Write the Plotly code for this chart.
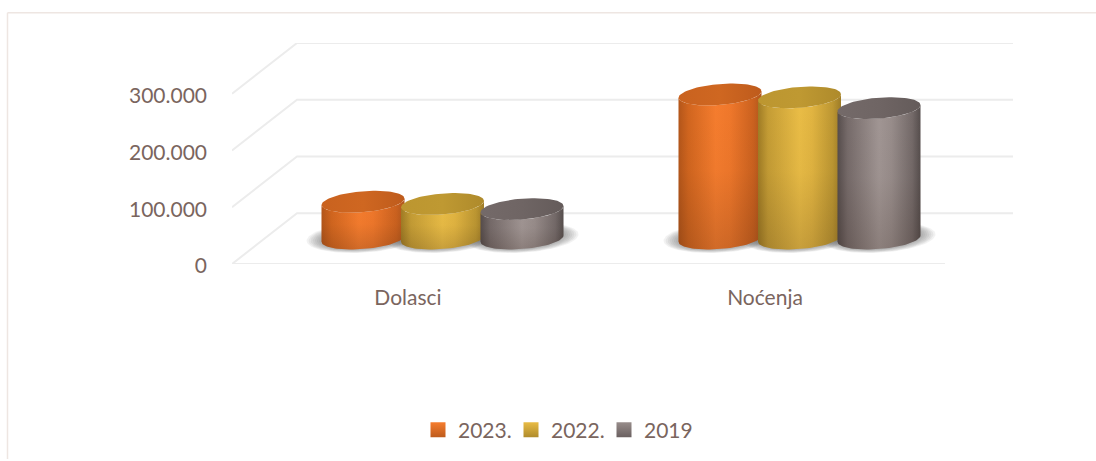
import numpy as np
import plotly.graph_objects as go

categories = ["Dolasci", "Noćenja"]
series_names = ["2023.", "2022.", "2019"]
values_2023 = [65000, 254000]
values_2022 = [61000, 249000]
values_2019 = [52000, 230000]
tick_vals = [0, 100000, 200000, 300000]
tick_text = ["0", "100.000", "200.000", "300.000"]

all_values = [values_2023, values_2022, values_2019]
side_colors = [
    [[0, "#B4561A"], [0.12, "#D2661F"], [0.45, "#F67D2E"], [0.62, "#F0782B"], [0.9, "#CC621F"], [1, "#B0561C"]],
    [[0, "#A07C25"], [0.12, "#C59D35"], [0.5, "#EABD46"], [0.65, "#E2B541"], [0.9, "#BD9732"], [1, "#9E7C27"]],
    [[0, "#564D4C"], [0.12, "#766B6A"], [0.5, "#A19694"], [0.65, "#988D8B"], [0.9, "#746A69"], [1, "#564E4D"]],
]
top_colors = [
    [[0, "#C9621F"], [0.5, "#CF6721"], [1, "#BE5B1C"]],
    [[0, "#BC9630"], [0.5, "#BF9932"], [1, "#AE8A2B"]],
    [[0, "#746A69"], [0.5, "#6F6564"], [1, "#645B5A"]],
]
legend_colors = [("#F67D2E", "#BE5B1C"), ("#E9BC45", "#B08C2C"), ("#988D8B", "#6A6060")]
text_color = "#7A655E"
grid_color = "#ECECEC"

# pixel geometry of the oblique projection
W, H = 1096, 461
PX_L, PX_R, PX_T, PX_B = 232, 1013, 43, 265
PX_PER_CAT = 357.0      # one category along the front edge
PX_PER_100K = 57.0
DEPTH_X, DEPTH_Y = 65.0, 51.0
FRONT_X0 = 410.0        # pixel x of first category on the front floor edge

ux = lambda px: px / PX_PER_CAT
uy = lambda px: px / PX_PER_100K * 100000

xmin = -(FRONT_X0 - PX_L) / PX_PER_CAT
xmax = (PX_R - FRONT_X0) / PX_PER_CAT
ymax = tick_vals[-1] + uy(DEPTH_Y)
dx, dy = ux(DEPTH_X), uy(DEPTH_Y)
front_right = (945 - FRONT_X0) / PX_PER_CAT

fig = go.Figure()

# walls and floor
gx, gy = [], []
for v in tick_vals:
    gx += [xmin, xmin + dx, xmax, None]
    gy += [v, v + dy, v + dy, None]
gx += [xmin, front_right, None]
gy += [0, 0, None]
fig.add_trace(go.Scatter(x=gx, y=gy, mode="lines", line=dict(color=grid_color, width=2),
                         showlegend=False, hoverinfo="skip", cliponaxis=False))

BAR_STEP = ux(79.5)
A = ux(41.5)
B = uy(10.5)
K = uy(3.2)
t = np.linspace(0, 2 * np.pi, 91)


def ellipse(cx, cy, ts=t, sa=1.0, sb=1.0):
    return cx + A * sa * np.cos(ts), cy + B * sb * np.sin(ts) + K * np.cos(ts)


# soft shadows under each group
for c in range(len(categories)):
    for s in range(len(series_names)):
        cx = c + dx / 2 + (s - 1) * BAR_STEP
        cy = dy / 2
        for sc in [1.36, 1.31, 1.26, 1.21, 1.16, 1.11, 1.06, 1.0]:
            ex, ey = ellipse(cx, cy + uy(1.0), sa=sc, sb=sc + 0.08)
            fig.add_trace(go.Scatter(x=ex, y=ey, mode="lines", fill="toself", line=dict(width=0),
                                     fillcolor="rgba(70,70,70,0.07)", showlegend=False, hoverinfo="skip"))

# cylinders
low = np.linspace(np.pi, 2 * np.pi, 46)
for c in range(len(categories)):
    for s, vals in enumerate(all_values):
        cx = c + dx / 2 + (s - 1) * BAR_STEP
        cy = dy / 2
        v = vals[c]
        bx, by = ellipse(cx, cy, low)
        tx, ty = ellipse(cx, cy + v, low)
        sx = np.r_[bx, tx[::-1], bx[0]]
        sy = np.r_[by, ty[::-1], by[0]]
        fig.add_trace(go.Scatter(x=sx, y=sy, mode="lines", fill="toself", line=dict(width=0),
                                 fillgradient=dict(type="horizontal", colorscale=side_colors[s]),
                                 showlegend=False, hoverinfo="skip",
                                 name=f"{series_names[s]} {categories[c]}"))
        fig.add_trace(go.Scatter(x=sx, y=sy, mode="lines", fill="toself", line=dict(width=0),
                                 fillgradient=dict(type="vertical", colorscale=[
                                     [0, "rgba(40,20,10,0.18)"], [0.5, "rgba(40,20,10,0.03)"], [1, "rgba(40,20,10,0)"]]),
                                 showlegend=False, hoverinfo="skip"))
        ex, ey = ellipse(cx, cy + v)
        fig.add_trace(go.Scatter(x=ex, y=ey, mode="lines", fill="toself", line=dict(width=0),
                                 fillgradient=dict(type="horizontal", colorscale=top_colors[s]),
                                 showlegend=False, hoverinfo="skip"))

# legend entries
for name, (c1, c2) in zip(series_names, legend_colors):
    fig.add_trace(go.Scatter(x=[None], y=[None], mode="markers", name=name,
                             marker=dict(symbol="square", size=15, color=c1,
                                         gradient=dict(type="vertical", color=c2))))

# outer border (top and left only are visible)
fx = lambda px: (px - PX_L) / (PX_R - PX_L)
fy = lambda py: (PX_B - py) / (PX_B - PX_T)
shapes = [dict(type="line", xref="paper", yref="paper", x0=fx(7.5), x1=fx(W), y0=fy(12.5), y1=fy(12.5),
               line=dict(color="#EEE6E2", width=1.5), layer="below"),
          dict(type="line", xref="paper", yref="paper", x0=fx(7.5), x1=fx(7.5), y0=fy(12.5), y1=fy(H),
               line=dict(color="#EEE6E2", width=1.5), layer="below")]

fig.update_layout(
    width=W, height=H, autosize=False,
    margin=dict(l=PX_L, r=W - PX_R, t=PX_T, b=H - PX_B, pad=0),
    paper_bgcolor="white", plot_bgcolor="rgba(0,0,0,0)",
    font=dict(family="Lato", size=21, color=text_color),
    xaxis=dict(range=[xmin, xmax], tickmode="array", tickvals=list(range(len(categories))), ticktext=categories,
               showgrid=False, zeroline=False, showline=False, ticks="", ticklabelstandoff=19,
               ticklabelshift=-2, fixedrange=True),
    yaxis=dict(range=[0, ymax], tickmode="array", tickvals=tick_vals, ticktext=tick_text,
               showgrid=False, zeroline=False, showline=False, ticks="", ticklabelstandoff=24,
               ticklabelshift=2, fixedrange=True),
    shapes=shapes,
    legend=dict(orientation="h", xref="paper", yref="paper", x=fx(418), xanchor="left",
                y=fy(430), yanchor="middle", entrywidth=48, entrywidthmode="pixels",
                bgcolor="rgba(0,0,0,0)", font=dict(size=21, color=text_color)),
    showlegend=True,
)

fig.write_html("out.html", config=dict(displayModeBar=False),
               post_script="document.body.style.margin='0';document.documentElement.style.overflow='hidden';")
